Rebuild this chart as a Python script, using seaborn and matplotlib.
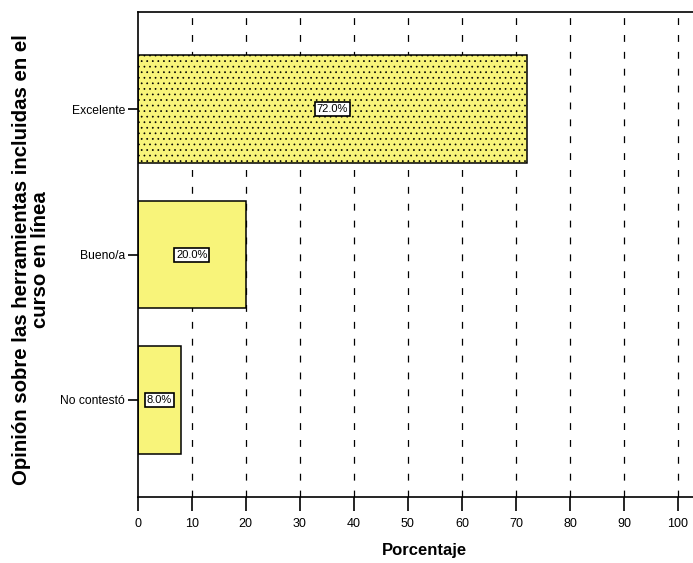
import matplotlib
matplotlib.use("Agg")
import matplotlib.pyplot as plt
import seaborn as sns
import pandas as pd

categories = ["Excelente", "Bueno/a", "No contestó"]
values = [72.0, 20.0, 8.0]
xticks = [0, 10, 20, 30, 40, 50, 60, 70, 80, 90, 100]

sns.set_theme(style="white")
plt.rcParams['font.family'] = ['Liberation Sans', 'DejaVu Sans']
plt.rcParams['hatch.linewidth'] = 0.5
plt.rcParams['hatch.color'] = 'black'
for k in ['text.color', 'axes.labelcolor', 'xtick.color', 'ytick.color', 'axes.edgecolor']:
    plt.rcParams[k] = 'black'

df = pd.DataFrame({"cat": categories, "val": values})

W, H = 693, 563
fig = plt.figure(figsize=(W/100, H/100), dpi=100)
left, right, top, bottom = 137.7, 693, 12, 497
ax = fig.add_axes([left/W, 1-bottom/H, (right-left)/W, (bottom-top)/H])

for x in xticks[1:]:
    ax.axvline(x, color='black', lw=0.9, ls=(0, (5.5, 8)), zorder=0)

sns.barplot(data=df, x="val", y="cat", orient="h", ax=ax, color="#F8F47A",
            edgecolor="black", linewidth=1.1, width=0.74, saturation=1, zorder=2)

ax.patches[0].set_hatch('...')

for i, v in enumerate(values):
    ax.text(v/2, i, f"{v:.1f}%", ha='center', va='center', fontsize=8, zorder=5,
            bbox=dict(boxstyle='square,pad=0.18', fc='white', ec='black', lw=1.2))

ax.set_xlim(0, 100*(right-left)/(678-left))
ax.set_ylim(2.667, -0.667)
ax.set_xticks(xticks)
ax.set_xticklabels([str(t) for t in xticks], fontsize=9)
ax.tick_params(axis='x', which='both', direction='out', length=10, width=1.2,
               color='black', labelsize=9, bottom=True, pad=5)
ax.tick_params(axis='y', which='both', direction='out', length=7, width=1.2,
               color='black', labelsize=8.7, left=True, pad=2)
ax.spines['right'].set_visible(False)
for s in ax.spines.values():
    s.set_color('black')
    s.set_linewidth(1.2)

ax.set_xlabel("Porcentaje", fontsize=12, fontweight='bold')
ax.xaxis.set_label_coords((424-left)/(right-left), -(551-bottom)/(bottom-top), transform=ax.transAxes)
ax.xaxis.label.set_va('center')
ax.set_ylabel("Opinión sobre las herramientas incluidas en el\ncurso en línea",
              fontsize=14.7, fontweight='bold', linespacing=1.0)
ax.yaxis.set_label_coords(-(left-31)/(right-left), (bottom-260)/(bottom-top), transform=ax.transAxes)
ax.yaxis.label.set_va('center')

fig.savefig("out.png", dpi=100)
